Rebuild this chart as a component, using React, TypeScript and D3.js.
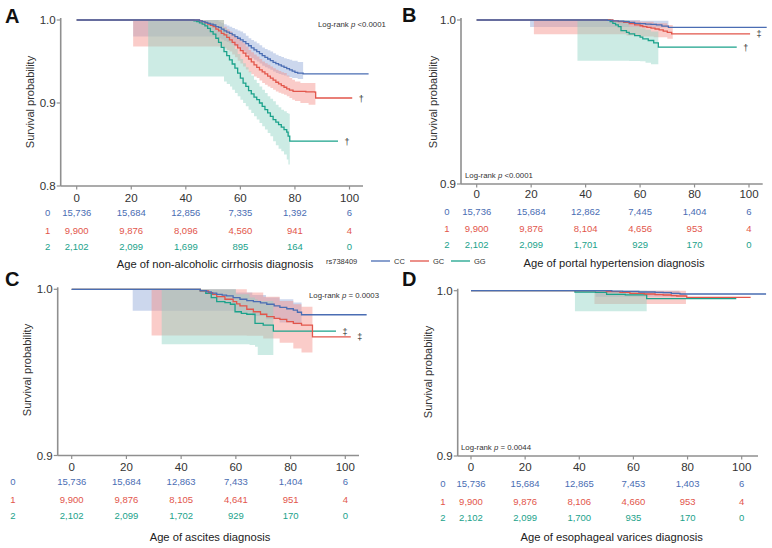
import React from "react";
import * as d3 from "d3";

type Pt = [number, number];
type Band = [number, number, number];

const ageTicks = [0, 20, 40, 60, 80, 100];
const genotypes = ["CC", "GC", "GG"];
const groupCodes = ["0", "1", "2"];
const lineColors = ["#4a6db3", "#e2564b", "#1ba28b"];
const bandColors = ["#8ea6d8", "#f38e88", "#8dd3c4"];

// ---- A: non-alcoholic cirrhosis
const aCC: Pt[] = [[0, 1], [44, 1], [45, 0.999], [46, 0.998], [47, 0.997], [48, 0.996], [49, 0.995], [50, 0.994], [51, 0.992], [52, 0.991], [53, 0.989], [54, 0.987], [55, 0.9855], [56, 0.984], [57, 0.982], [58, 0.98], [59, 0.978], [60, 0.976], [61, 0.974], [62, 0.9715], [63, 0.969], [64, 0.9665], [65, 0.964], [66, 0.962], [67, 0.9595], [68, 0.957], [69, 0.955], [70, 0.953], [71, 0.951], [72, 0.949], [73, 0.9475], [74, 0.946], [75, 0.9445], [76, 0.943], [77, 0.9415], [78, 0.94], [79, 0.9385], [80, 0.937], [81, 0.936], [83, 0.935], [107, 0.935]];
const aGC: Pt[] = [[0, 1], [44, 1], [45, 0.999], [46, 0.998], [47, 0.9965], [48, 0.995], [49, 0.9935], [50, 0.992], [51, 0.989], [52, 0.987], [53, 0.984], [54, 0.982], [55, 0.979], [56, 0.976], [57, 0.973], [58, 0.97], [59, 0.9665], [60, 0.963], [61, 0.96], [62, 0.9565], [63, 0.953], [64, 0.9495], [65, 0.946], [66, 0.943], [67, 0.94], [68, 0.9375], [69, 0.935], [70, 0.9325], [71, 0.93], [72, 0.9275], [73, 0.925], [74, 0.923], [75, 0.921], [76, 0.919], [77, 0.917], [78, 0.9155], [79.3, 0.914], [84, 0.9135], [87.3, 0.913], [87.6, 0.906], [101, 0.906]];
const aGG: Pt[] = [[0, 1], [41.5, 1], [43, 0.999], [44, 0.998], [45, 0.9965], [46, 0.995], [47, 0.993], [48, 0.99], [49, 0.986], [50, 0.983], [51, 0.978], [52, 0.973], [53, 0.967], [54, 0.962], [55, 0.957], [56, 0.952], [57, 0.947], [58, 0.942], [59, 0.936], [60, 0.93], [61, 0.924], [62, 0.92], [63, 0.915], [64, 0.911], [65, 0.907], [66, 0.904], [67, 0.9], [68, 0.896], [69, 0.892], [70, 0.888], [71, 0.884], [72, 0.88], [73, 0.877], [74, 0.874], [75, 0.871], [76, 0.868], [77, 0.865], [77.5, 0.86], [78.1, 0.854], [95.8, 0.854]];
const aCCband: Band[] = [[20.7, 0.98, 1], [50.7, 0.98, 1], [52, 0.978, 0.998], [53, 0.9765, 0.9965], [54, 0.975, 0.995], [55, 0.9735, 0.9935], [56, 0.972, 0.992], [57, 0.97, 0.9905], [58, 0.968, 0.989], [59, 0.966, 0.9875], [60, 0.964, 0.986], [61, 0.962, 0.984], [62, 0.959, 0.981], [63, 0.956, 0.978], [64, 0.954, 0.976], [65, 0.952, 0.974], [66, 0.95, 0.972], [67, 0.9475, 0.9695], [68, 0.945, 0.967], [69, 0.943, 0.965], [70, 0.9415, 0.9635], [71, 0.94, 0.962], [72, 0.938, 0.96], [73, 0.936, 0.958], [74, 0.935, 0.9565], [75, 0.934, 0.9555], [76, 0.933, 0.954], [77, 0.932, 0.953], [78, 0.931, 0.952], [79, 0.93, 0.951], [81, 0.929, 0.9495], [83, 0.928, 0.948]];
const aGCband: Band[] = [[20.7, 0.968, 1], [52.5, 0.968, 1], [54, 0.966, 0.992], [55, 0.964, 0.989], [56, 0.962, 0.986], [57, 0.9585, 0.983], [58, 0.955, 0.98], [59, 0.951, 0.977], [60, 0.9475, 0.9745], [61, 0.944, 0.972], [62, 0.9405, 0.968], [63, 0.937, 0.964], [64, 0.9345, 0.961], [65, 0.932, 0.9585], [66, 0.93, 0.956], [67, 0.927, 0.953], [68, 0.924, 0.95], [69, 0.922, 0.948], [70, 0.92, 0.946], [71, 0.918, 0.944], [72, 0.916, 0.942], [73, 0.914, 0.94], [74, 0.9125, 0.9385], [75, 0.911, 0.937], [76, 0.91, 0.936], [77, 0.908, 0.933], [78, 0.906, 0.93], [79, 0.904, 0.928], [80, 0.9025, 0.926], [82, 0.9, 0.924], [85, 0.898, 0.924], [87.5, 0.898, 0.924]];
const aGGband: Band[] = [[26.2, 0.932, 1], [52.5, 0.932, 1], [54, 0.926, 0.99], [55, 0.923, 0.983], [56.2, 0.92, 0.976], [57, 0.916, 0.97], [58, 0.912, 0.965], [59, 0.908, 0.959], [60, 0.904, 0.953], [61, 0.9, 0.948], [62, 0.896, 0.943], [63, 0.892, 0.938], [64, 0.888, 0.933], [65, 0.884, 0.928], [66, 0.88, 0.924], [67, 0.876, 0.92], [68, 0.872, 0.916], [69, 0.868, 0.912], [70, 0.864, 0.908], [71, 0.86, 0.905], [72, 0.854, 0.902], [73, 0.849, 0.898], [74, 0.845, 0.895], [75, 0.842, 0.892], [76, 0.838, 0.89], [77, 0.832, 0.888], [77.6, 0.826, 0.887], [78.1, 0.822, 0.886]];
const aRisk = [[15736, 15684, 12856, 7335, 1392, 6], [9900, 9876, 8096, 4560, 941, 4], [2102, 2099, 1699, 895, 164, 0]];

// ---- B: portal hypertension
const bCC: Pt[] = [[0, 1], [46, 1], [48, 0.9998], [50, 0.9995], [52, 0.9993], [54, 0.999], [56, 0.9985], [58, 0.998], [60, 0.9978], [62, 0.9975], [64, 0.9973], [66, 0.997], [68, 0.9963], [70.4, 0.9955], [106.5, 0.9955]];
const bGC: Pt[] = [[0, 1], [47, 1], [50, 0.9995], [52, 0.999], [54, 0.9985], [56, 0.9978], [58, 0.997], [60, 0.9965], [61, 0.996], [62.5, 0.9955], [64, 0.995], [65.5, 0.9945], [67, 0.994], [68.5, 0.9932], [70, 0.9925], [71.6, 0.9915], [100.4, 0.9915]];
const bGG: Pt[] = [[0, 1], [47, 1], [49, 0.999], [50, 0.998], [51, 0.997], [52, 0.996], [53, 0.9935], [55, 0.9925], [56, 0.9915], [58, 0.9905], [60, 0.9895], [61, 0.9885], [63, 0.9875], [65, 0.986], [66.7, 0.9835], [95.5, 0.9835]];
const bCCband: Band[] = [[19.6, 0.9957, 1], [46, 0.9957, 1], [60, 0.9955, 0.9995], [70.4, 0.9945, 0.998]];
const bGCband: Band[] = [[21, 0.9913, 1], [48, 0.9913, 1], [55, 0.9905, 0.9995], [60, 0.99, 0.999], [65, 0.9895, 0.998], [70, 0.9885, 0.997], [72, 0.9885, 0.996]];
const bGGband: Band[] = [[37, 0.9751, 1], [50, 0.9751, 1], [56, 0.975, 0.996], [60, 0.9748, 0.995], [62, 0.974, 0.994], [64, 0.973, 0.993], [66.7, 0.9727, 0.99]];
const bRisk = [[15736, 15684, 12862, 7445, 1404, 6], [9900, 9876, 8104, 4656, 953, 4], [2102, 2099, 1701, 929, 170, 0]];

// ---- C: ascites
const cCC: Pt[] = [[0, 1], [44, 1], [47, 0.9992], [49.3, 0.9984], [51, 0.9977], [53, 0.997], [55, 0.9965], [56.6, 0.996], [59, 0.995], [61.5, 0.994], [64, 0.9932], [66.4, 0.9926], [69, 0.9918], [71.3, 0.991], [74, 0.99], [76.1, 0.9891], [78.6, 0.9883], [81, 0.9875], [82.5, 0.9862], [84, 0.9847], [107.8, 0.9847]];
const cGC: Pt[] = [[0, 1], [44, 1], [47, 0.999], [50, 0.998], [51.5, 0.997], [53, 0.9956], [56, 0.994], [59, 0.9926], [60.3, 0.9912], [61.5, 0.99], [64, 0.988], [66.4, 0.9865], [69, 0.985], [71.3, 0.9835], [74, 0.9825], [76.1, 0.9819], [78.6, 0.9805], [81, 0.9795], [84, 0.9785], [88, 0.9714], [102, 0.9714]];
const cGG: Pt[] = [[0, 1], [44, 1], [47, 0.999], [49, 0.9976], [51, 0.995], [53, 0.9926], [56, 0.992], [58, 0.991], [59.7, 0.9865], [62, 0.9855], [64, 0.985], [67, 0.9795], [70, 0.9785], [73.7, 0.9748], [96.6, 0.9748]];
const cCCband: Band[] = [[22.3, 0.9871, 1], [55, 0.9871, 1], [60, 0.986, 0.998], [66, 0.984, 0.9965], [71, 0.982, 0.995], [76, 0.98, 0.994], [81, 0.979, 0.992], [84, 0.978, 0.991]];
const cGCband: Band[] = [[29.2, 0.9722, 1], [60, 0.9722, 1], [64, 0.972, 0.998], [70, 0.9704, 0.9955], [76, 0.9678, 0.993], [81, 0.9644, 0.991], [84, 0.962, 0.9895], [88, 0.9594, 0.9875]];
const cGGband: Band[] = [[32.9, 0.967, 1], [55, 0.967, 1], [60, 0.967, 0.997], [65, 0.9665, 0.995], [67, 0.9654, 0.994], [68, 0.9604, 0.993], [73.7, 0.9604, 0.992]];
const cRisk = [[15736, 15684, 12863, 7433, 1404, 6], [9900, 9876, 8105, 4641, 951, 4], [2102, 2099, 1702, 929, 170, 0]];

// ---- D: esophageal varices
const dCC: Pt[] = [[0, 1], [48, 1], [52, 0.9998], [56, 0.9996], [62, 0.9992], [68, 0.999], [71, 0.9988], [74, 0.9984], [77.2, 0.998], [109, 0.998]];
const dGC: Pt[] = [[0, 1], [45, 1], [50, 0.9994], [55, 0.999], [58.7, 0.9984], [64, 0.998], [68, 0.9976], [71, 0.9974], [74, 0.997], [76, 0.9968], [79.7, 0.996], [103.3, 0.996]];
const dGG: Pt[] = [[0, 1], [38.4, 0.9992], [46, 0.999], [50.1, 0.9978], [57, 0.9975], [64.9, 0.9952], [98, 0.9952]];
const dCCband: Band[] = [[46, 0.9964, 1], [77, 0.9964, 1]];
const dGCband: Band[] = [[45.6, 0.992, 1], [79.4, 0.992, 0.9995]];
const dGGband: Band[] = [[38.4, 0.9875, 1], [64.9, 0.9875, 1]];
const dRisk = [[15736, 15684, 12865, 7453, 1403, 6], [9900, 9876, 8106, 4660, 953, 4], [2102, 2099, 1700, 935, 170, 0]];

const panels = [
  {
    letter: "A", lx: 5, ly: 22.7, axisX: 60.7, x0: 76.7, x1: 349.5, xEnd: 363, yTop: 20, yBot: 186, yMin: 0.8,
    yTicks: [0.8, 0.9, 1.0], tickY: 202, rows: [213, 230.7, 246.7], groupX: 47.7,
    title: "Age of non-alcoholic cirrhosis diagnosis", titleX: 215, titleY: 264, ylabX: 30, ylabY: 102,
    p: "<0.0001", lrX: 318, lrY: 27, lrAnchor: "start",
    curves: [aCC, aGC, aGG], bands: [aCCband, aGCband, aGGband], risk: aRisk,
    marks: [null, "†", "†"],
  },
  {
    letter: "B", lx: 402, ly: 21.7, axisX: 461, x0: 476.7, x1: 749, xEnd: 762.7, yTop: 20, yBot: 184, yMin: 0.9,
    yTicks: [0.9, 1.0], tickY: 198, rows: [212, 228.7, 244.7], groupX: 447,
    title: "Age of portal hypertension diagnosis", titleX: 614, titleY: 263, ylabX: 432.7, ylabY: 102,
    p: "<0.0001", lrX: 465, lrY: 178, lrAnchor: "start",
    curves: [bCC, bGC, bGG], bands: [bCCband, bGCband, bGGband], risk: bRisk,
    marks: [null, "‡", "†"],
  },
  {
    letter: "C", lx: 5, ly: 286, axisX: 57.7, x0: 71.7, x1: 345.3, xEnd: 359, yTop: 289.3, yBot: 455.5, yMin: 0.9,
    yTicks: [0.9, 1.0], tickY: 470.5, rows: [482, 500, 516], groupX: 13,
    title: "Age of ascites diagnosis", titleX: 210, titleY: 537, ylabX: 27, ylabY: 370,
    p: "= 0.0003", lrX: 379, lrY: 298, lrAnchor: "end",
    curves: [cCC, cGC, cGG], bands: [cCCband, cGCband, cGGband], risk: cRisk,
    marks: [null, "‡", "‡"],
  },
  {
    letter: "D", lx: 402, ly: 286, axisX: 457.7, x0: 471, x1: 741.7, xEnd: 758, yTop: 290.7, yBot: 456, yMin: 0.9,
    yTicks: [0.9, 1.0], tickY: 471, rows: [484, 501.7, 518], groupX: 443,
    title: "Age of esophageal varices diagnosis", titleX: 611.7, titleY: 537, ylabX: 428, ylabY: 372,
    p: "= 0.0044", lrX: 461, lrY: 450, lrAnchor: "start",
    curves: [dCC, dGC, dGG], bands: [dCCband, dGCband, dGGband], risk: dRisk,
    marks: [null, null, null],
  },
];

const font = "'Liberation Sans', Arial, Helvetica, sans-serif";
const axisGrey = "#8f8f8f";
const fmt = d3.format(",");
const fmtY = d3.format(".1f");

function Panel({ cfg }: { cfg: any }) {
  const x = d3.scaleLinear().domain([0, 100]).range([cfg.x0, cfg.x1]);
  const y = d3.scaleLinear().domain([cfg.yMin, 1]).range([cfg.yBot, cfg.yTop]);
  const line = d3.line<Pt>().x(d => x(d[0])).y(d => y(d[1])).curve(d3.curveStepAfter);
  const area = d3.area<Band>().x(d => x(d[0])).y0(d => y(d[1])).y1(d => y(d[2])).curve(d3.curveStepAfter);
  const order = [2, 1, 0];
  return (
    <g>
      <text x={cfg.lx} y={cfg.ly} fontSize={20} fontWeight="bold" fill="#111">{cfg.letter}</text>
      {cfg.bands.map((b: Band[], i: number) => (
        <path key={"b" + i} d={area(b) || ""} fill={bandColors[i]} fillOpacity={0.45} stroke="none" />
      ))}
      {order.map(i => (
        <path key={"l" + i} d={line(cfg.curves[i]) || ""} fill="none" stroke={lineColors[i]} strokeWidth={1.3} />
      ))}
      {cfg.marks.map((m: string | null, i: number) => {
        if (!m) return null;
        const last = cfg.curves[i][cfg.curves[i].length - 1];
        return (
          <text key={"m" + i} x={x(last[0]) + 9} y={y(last[1]) + 3.5} fontSize={9} textAnchor="middle" fill="#333">{m}</text>
        );
      })}
      <line x1={cfg.axisX} x2={cfg.axisX} y1={cfg.yTop - 2} y2={cfg.yBot} stroke={axisGrey} strokeWidth={1.6} />
      <line x1={cfg.axisX} x2={cfg.xEnd} y1={cfg.yBot} y2={cfg.yBot} stroke={axisGrey} strokeWidth={1.6} />
      {cfg.yTicks.map((t: number) => (
        <g key={"yt" + t}>
          <line x1={cfg.axisX - 4} x2={cfg.axisX} y1={y(t)} y2={y(t)} stroke={axisGrey} strokeWidth={1.2} />
          <text x={cfg.axisX - 5} y={y(t) + 4} fontSize={11.5} textAnchor="end" fill="#333">{fmtY(t)}</text>
        </g>
      ))}
      {ageTicks.map(t => (
        <g key={"xt" + t}>
          <line x1={x(t)} x2={x(t)} y1={cfg.yBot} y2={cfg.yBot + 3.5} stroke={axisGrey} strokeWidth={1.2} />
          <text x={x(t)} y={cfg.tickY} fontSize={11.5} textAnchor="middle" fill="#333">{t}</text>
        </g>
      ))}
      <text transform={`translate(${cfg.ylabX},${cfg.ylabY}) rotate(-90)`} fontSize={11} textAnchor="middle" dy="0.35em" fill="#333">Survival probability</text>
      <text x={cfg.lrX} y={cfg.lrY} fontSize={7.8} textAnchor={cfg.lrAnchor} fill="#333">
        Log-rank <tspan fontStyle="italic">p</tspan> {cfg.p}
      </text>
      {cfg.risk.map((row: number[], g: number) => (
        <g key={"r" + g} fill={lineColors[g]} fontSize={9.5}>
          <text x={cfg.groupX} y={cfg.rows[g]} dy="0.35em" textAnchor="middle">{groupCodes[g]}</text>
          {row.map((n, k) => (
            <text key={k} x={x(ageTicks[k])} y={cfg.rows[g]} dy="0.35em" textAnchor="middle">{fmt(n)}</text>
          ))}
        </g>
      ))}
      <text x={cfg.titleX} y={cfg.titleY} dy="0.35em" fontSize={11.2} textAnchor="middle" fill="#222">{cfg.title}</text>
    </g>
  );
}

function Legend() {
  const starts = [371, 410, 451];
  return (
    <g fontSize={7.5} fill="#333">
      <text x={326} y={261} dy="0.35em">rs738409</text>
      {genotypes.map((g, i) => (
        <g key={g}>
          <line x1={starts[i]} x2={starts[i] + 19} y1={261} y2={261} stroke={lineColors[i]} strokeWidth={1.3} />
          <text x={starts[i] + 23} y={261} dy="0.35em">{g}</text>
        </g>
      ))}
    </g>
  );
}

export default function App() {
  return (
    <svg width={772} height={548} style={{ position: "absolute", left: 0, top: 0, background: "#fff" }} fontFamily={font}>
      <rect width={772} height={548} fill="#fff" />
      {panels.map(p => <Panel key={p.letter} cfg={p} />)}
      <Legend />
    </svg>
  );
}
